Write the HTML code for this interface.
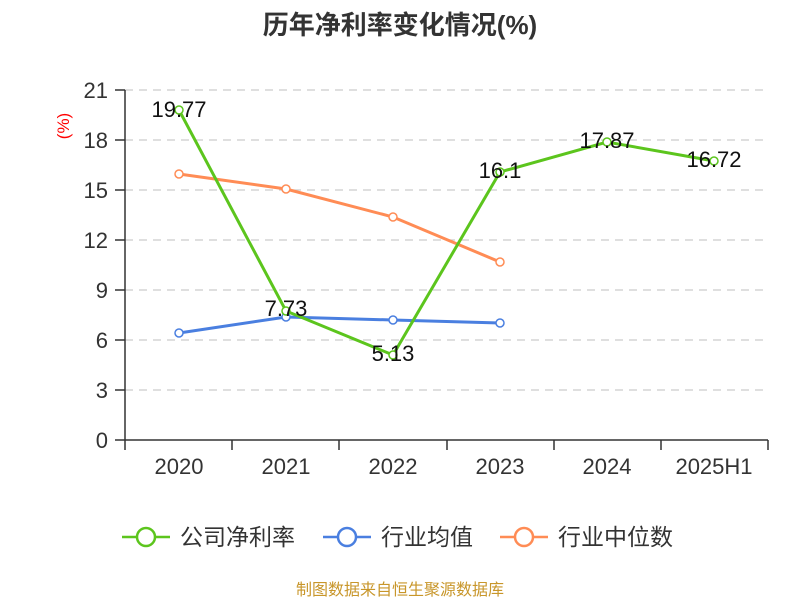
<!DOCTYPE html><html><head><meta charset="utf-8"><style>body{margin:0;background:#fff}</style></head><body>
<svg width="800" height="600" xmlns="http://www.w3.org/2000/svg" font-family="'Liberation Sans','Noto Sans CJK SC',sans-serif">
<text x="400" y="34" text-anchor="middle" font-size="26" font-weight="bold" fill="#333">历年净利率变化情况(%)</text>
<text transform="translate(69,126) rotate(-90)" text-anchor="middle" font-size="17" fill="#f00">(%)</text>
<g stroke="#ccc" stroke-dasharray="8,6" stroke-width="1.3">
<line x1="125" x2="768" y1="90" y2="90"/><line x1="125" x2="768" y1="140" y2="140"/><line x1="125" x2="768" y1="190" y2="190"/><line x1="125" x2="768" y1="240" y2="240"/><line x1="125" x2="768" y1="290" y2="290"/><line x1="125" x2="768" y1="340" y2="340"/><line x1="125" x2="768" y1="390" y2="390"/></g>
<g stroke="#333" stroke-width="1.5"><line x1="125" x2="125" y1="90" y2="440"/><line x1="125" x2="768" y1="440" y2="440"/>
<line x1="115" x2="125" y1="90" y2="90"/><line x1="115" x2="125" y1="140" y2="140"/><line x1="115" x2="125" y1="190" y2="190"/><line x1="115" x2="125" y1="240" y2="240"/><line x1="115" x2="125" y1="290" y2="290"/><line x1="115" x2="125" y1="340" y2="340"/><line x1="115" x2="125" y1="390" y2="390"/><line x1="115" x2="125" y1="440" y2="440"/>
<line x1="125" x2="125" y1="440" y2="450"/><line x1="232" x2="232" y1="440" y2="450"/><line x1="339" x2="339" y1="440" y2="450"/><line x1="447" x2="447" y1="440" y2="450"/><line x1="554" x2="554" y1="440" y2="450"/><line x1="661" x2="661" y1="440" y2="450"/><line x1="768" x2="768" y1="440" y2="450"/></g>
<g font-size="22" fill="#333" text-anchor="end"><text x="108" y="98">21</text><text x="108" y="148">18</text><text x="108" y="198">15</text><text x="108" y="248">12</text><text x="108" y="298">9</text><text x="108" y="348">6</text><text x="108" y="398">3</text><text x="108" y="448">0</text></g>
<g font-size="22" fill="#333" text-anchor="middle"><text x="179" y="474">2020</text><text x="286" y="474">2021</text><text x="393" y="474">2022</text><text x="500" y="474">2023</text><text x="607" y="474">2024</text><text x="714" y="474">2025H1</text></g>
<g fill="#fff" stroke-width="1.5">
<polyline points="179,174 286,189 393,217 500,262" fill="none" stroke="#ff8c55" stroke-width="3"/>
<g stroke="#ff8c55"><circle cx="179" cy="174" r="4"/><circle cx="286" cy="189" r="4"/><circle cx="393" cy="217" r="4"/><circle cx="500" cy="262" r="4"/></g>
<polyline points="179,333 286,317 393,320 500,323" fill="none" stroke="#4a7fe0" stroke-width="3"/>
<g stroke="#4a7fe0"><circle cx="179" cy="333" r="4"/><circle cx="286" cy="317" r="4"/><circle cx="393" cy="320" r="4"/><circle cx="500" cy="323" r="4"/></g>
<polyline points="179,110 286,311 393,355 500,172 607,142 714,161" fill="none" stroke="#5cc51d" stroke-width="3"/>
<g stroke="#5cc51d"><circle cx="179" cy="110" r="4"/><circle cx="286" cy="311" r="4"/><circle cx="393" cy="355" r="4"/><circle cx="500" cy="172" r="4"/><circle cx="607" cy="142" r="4"/><circle cx="714" cy="161" r="4"/></g></g>
<g font-size="22" fill="#111" text-anchor="middle"><text x="179" y="117">19.77</text><text x="286" y="316">7.73</text><text x="393" y="361">5.13</text><text x="500" y="178">16.1</text><text x="607" y="148">17.87</text><text x="714" y="167">16.72</text></g>
<g stroke-width="2.5" fill="#fff">
<line x1="122" x2="170" y1="537" y2="537" stroke="#5cc51d"/><circle cx="146" cy="537" r="9" stroke="#5cc51d"/>
<line x1="323" x2="371" y1="537" y2="537" stroke="#4a7fe0"/><circle cx="347" cy="537" r="9" stroke="#4a7fe0"/>
<line x1="500" x2="548" y1="537" y2="537" stroke="#ff8c55"/><circle cx="524" cy="537" r="9" stroke="#ff8c55"/></g>
<g font-size="23" fill="#333"><text x="180" y="545">公司净利率</text><text x="381" y="545">行业均值</text><text x="558" y="545">行业中位数</text></g>
<text x="400" y="595" text-anchor="middle" font-size="16" fill="#c8962a">制图数据来自恒生聚源数据库</text>
</svg></body></html>
